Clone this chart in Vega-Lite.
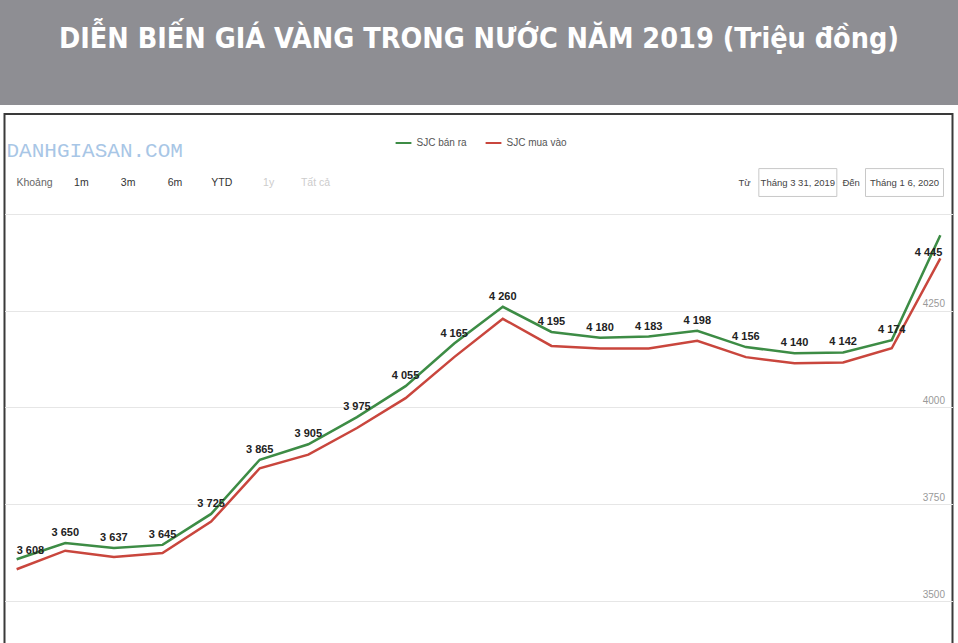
{
  "$schema": "https://vega.github.io/schema/vega-lite/v6.json",
  "padding": 0,
  "background": "white",
  "spacing": 8,
  "center": true,
  "config": {
    "view": {"stroke": null},
    "font": "Liberation Sans, sans-serif",
    "locale": {"number": {"decimal": ",", "thousands": " ", "grouping": [3], "currency": ["", ""]}}
  },
  "datasets": {
    "tieude": [{"tieu_de": "DIỄN BIẾN GIÁ VÀNG TRONG NƯỚC NĂM 2019 (Triệu đồng)"}],
    "gia_vang": [
      {"ngay": "2019-03-31", "loai": "SJC bán ra", "gia": 3608},
      {"ngay": "2019-04-15", "loai": "SJC bán ra", "gia": 3650},
      {"ngay": "2019-04-30", "loai": "SJC bán ra", "gia": 3637},
      {"ngay": "2019-05-15", "loai": "SJC bán ra", "gia": 3645},
      {"ngay": "2019-05-30", "loai": "SJC bán ra", "gia": 3725},
      {"ngay": "2019-06-14", "loai": "SJC bán ra", "gia": 3865},
      {"ngay": "2019-06-29", "loai": "SJC bán ra", "gia": 3905},
      {"ngay": "2019-07-14", "loai": "SJC bán ra", "gia": 3975},
      {"ngay": "2019-07-29", "loai": "SJC bán ra", "gia": 4055},
      {"ngay": "2019-08-13", "loai": "SJC bán ra", "gia": 4165},
      {"ngay": "2019-08-28", "loai": "SJC bán ra", "gia": 4260},
      {"ngay": "2019-09-12", "loai": "SJC bán ra", "gia": 4195},
      {"ngay": "2019-09-27", "loai": "SJC bán ra", "gia": 4180},
      {"ngay": "2019-10-12", "loai": "SJC bán ra", "gia": 4183},
      {"ngay": "2019-10-27", "loai": "SJC bán ra", "gia": 4198},
      {"ngay": "2019-11-11", "loai": "SJC bán ra", "gia": 4156},
      {"ngay": "2019-11-26", "loai": "SJC bán ra", "gia": 4140},
      {"ngay": "2019-12-11", "loai": "SJC bán ra", "gia": 4142},
      {"ngay": "2019-12-26", "loai": "SJC bán ra", "gia": 4174},
      {"ngay": "2020-01-06", "loai": "SJC bán ra", "gia": 4445},
      {"ngay": "2019-03-31", "loai": "SJC mua vào", "gia": 3582},
      {"ngay": "2019-04-15", "loai": "SJC mua vào", "gia": 3630},
      {"ngay": "2019-04-30", "loai": "SJC mua vào", "gia": 3614},
      {"ngay": "2019-05-15", "loai": "SJC mua vào", "gia": 3624},
      {"ngay": "2019-05-30", "loai": "SJC mua vào", "gia": 3705},
      {"ngay": "2019-06-14", "loai": "SJC mua vào", "gia": 3843},
      {"ngay": "2019-06-29", "loai": "SJC mua vào", "gia": 3878},
      {"ngay": "2019-07-14", "loai": "SJC mua vào", "gia": 3947},
      {"ngay": "2019-07-29", "loai": "SJC mua vào", "gia": 4024},
      {"ngay": "2019-08-13", "loai": "SJC mua vào", "gia": 4130},
      {"ngay": "2019-08-28", "loai": "SJC mua vào", "gia": 4229},
      {"ngay": "2019-09-12", "loai": "SJC mua vào", "gia": 4159},
      {"ngay": "2019-09-27", "loai": "SJC mua vào", "gia": 4152},
      {"ngay": "2019-10-12", "loai": "SJC mua vào", "gia": 4152},
      {"ngay": "2019-10-27", "loai": "SJC mua vào", "gia": 4172},
      {"ngay": "2019-11-11", "loai": "SJC mua vào", "gia": 4130},
      {"ngay": "2019-11-26", "loai": "SJC mua vào", "gia": 4114},
      {"ngay": "2019-12-11", "loai": "SJC mua vào", "gia": 4116},
      {"ngay": "2019-12-26", "loai": "SJC mua vào", "gia": 4153},
      {"ngay": "2020-01-06", "loai": "SJC mua vào", "gia": 4385}
    ],
    "cong_cu": [
      {"muc": "Khoảng", "nhom": "khoang", "trang_thai": "nhan"},
      {"muc": "1m", "nhom": "khoang", "trang_thai": "nut"},
      {"muc": "3m", "nhom": "khoang", "trang_thai": "nut"},
      {"muc": "6m", "nhom": "khoang", "trang_thai": "nut"},
      {"muc": "YTD", "nhom": "khoang", "trang_thai": "nut"},
      {"muc": "1y", "nhom": "khoang", "trang_thai": "tat"},
      {"muc": "Tất cả", "nhom": "khoang", "trang_thai": "tat"},
      {"muc": "Từ", "nhom": "ngay", "trang_thai": "nhan"},
      {"muc": "Tháng 3 31, 2019", "nhom": "ngay", "trang_thai": "o_nhap"},
      {"muc": "Đến", "nhom": "ngay", "trang_thai": "nhan"},
      {"muc": "Tháng 1 6, 2020", "nhom": "ngay", "trang_thai": "o_nhap"}
    ]
  },
  "vconcat": [
    {
      "width": 958,
      "height": 105,
      "view": {"fill": "#8e8e93", "stroke": null},
      "data": {"name": "tieude"},
      "mark": {"type": "text", "color": "white", "fontSize": 28.5, "fontWeight": "bold", "font": "DejaVu Sans Condensed, Open Sans, sans-serif", "baseline": "alphabetic", "dy": -5},
      "encoding": {"text": {"field": "tieu_de"}}
    },
    {
      "width": 948,
      "height": 530,
      "view": {"fill": "white", "stroke": "#3a3a3a", "strokeWidth": 2},
      "title": {"text": "DANHGIASAN.COM", "anchor": "start", "frame": "group", "orient": "top", "offset": -64, "font": "Liberation Mono", "fontSize": 21, "fontWeight": "normal", "color": "#a8c6e6", "dx": 2, "baseline": "alphabetic"},
      "resolve": {"scale": {"x": "independent", "color": "independent"}, "axis": {"y": "independent"}},
      "layer": [
        {
          "data": {"name": "gia_vang"},
          "encoding": {
            "x": {"field": "ngay", "type": "ordinal", "sort": null, "axis": null, "scale": {"type": "point", "padding": 0.25}},
            "y": {"field": "gia", "type": "quantitative",
                  "scale": {"domain": [3389, 4758], "nice": false, "zero": false},
                  "axis": {"orient": "right", "values": [3500, 3750, 4000, 4250, 4500], "format": "d",
                           "labelExpr": "datum.value >= 4500 ? '' : datum.label",
                           "title": null, "domain": false, "ticks": false, "grid": true, "gridColor": "#e6e6e6",
                           "labelAlign": "right", "labelBaseline": "bottom", "labelPadding": -8, "labelOffset": -2,
                           "labelColor": "#999999", "labelFontSize": 10}}
          },
          "layer": [
            {
              "mark": {"type": "line", "strokeWidth": 2.5},
              "encoding": {
                "color": {"field": "loai", "type": "nominal",
                          "scale": {"domain": ["SJC bán ra", "SJC mua vào"], "range": ["#3d8c45", "#c9463d"]},
                          "legend": {"orient": "none", "legendX": 390, "legendY": 20, "direction": "horizontal", "title": null,
                                     "symbolType": "stroke", "symbolStrokeWidth": 2, "symbolSize": 250,
                                     "labelFontSize": 10, "labelColor": "#555555", "columnPadding": 14}}
              }
            },
            {
              "transform": [{"filter": "datum.loai === 'SJC bán ra' && datum.ngay !== '2019-03-31' && datum.ngay !== '2020-01-06'"}],
              "mark": {"type": "text", "baseline": "bottom", "dy": -5, "fontSize": 11, "fontWeight": "bold", "color": "#222222"},
              "encoding": {"text": {"field": "gia", "type": "quantitative", "format": ",d"}}
            },
            {
              "transform": [{"filter": "datum.loai === 'SJC bán ra' && datum.ngay === '2019-03-31'"}],
              "mark": {"type": "text", "baseline": "bottom", "align": "left", "dy": -3, "dx": 0, "fontSize": 11, "fontWeight": "bold", "color": "#222222"},
              "encoding": {"text": {"field": "gia", "type": "quantitative", "format": ",d"}}
            },
            {
              "transform": [{"filter": "datum.loai === 'SJC bán ra' && datum.ngay === '2020-01-06'"}],
              "mark": {"type": "text", "baseline": "top", "align": "right", "dy": 12, "dx": 2, "fontSize": 11, "fontWeight": "bold", "color": "#222222"},
              "encoding": {"text": {"field": "gia", "type": "quantitative", "format": ",d"}}
            }
          ]
        },
        {
          "data": {"name": "cong_cu"},
          "transform": [{"filter": "datum.nhom === 'khoang'"}],
          "mark": {"type": "text", "fontSize": 10.5, "baseline": "middle"},
          "encoding": {
            "x": {"field": "muc", "type": "nominal", "sort": null, "axis": null, "scale": {"type": "point", "padding": 0, "range": [30, 311]}},
            "y": {"datum": 4580, "type": "quantitative", "axis": null},
            "text": {"field": "muc"},
            "color": {"field": "trang_thai", "type": "nominal", "scale": {"domain": ["nhan", "nut", "tat"], "range": ["#666666", "#333333", "#cccccc"]}, "legend": null}
          }
        },
        {
          "data": {"name": "cong_cu"},
          "transform": [{"filter": "datum.nhom === 'ngay'"}],
          "encoding": {
            "x": {"field": "muc", "type": "nominal", "sort": null, "axis": null,
                  "scale": {"type": "point", "padding": 0, "domain": ["Từ", "Tháng 3 31, 2019", "Đến", "Tháng 1 6, 2020"], "range": [740, 900]}}
          },
          "layer": [
            {
              "transform": [{"filter": "datum.trang_thai === 'o_nhap'"}],
              "mark": {"type": "rect", "width": 78, "fill": "white", "stroke": "#c8c8c8", "strokeWidth": 1},
              "encoding": {"y": {"datum": 4545, "type": "quantitative", "axis": null}, "y2": {"datum": 4617}}
            },
            {
              "mark": {"type": "text", "fontSize": 9.5, "baseline": "middle", "color": "#444444"},
              "encoding": {"y": {"datum": 4580, "type": "quantitative", "axis": null}, "text": {"field": "muc"}}
            }
          ]
        }
      ]
    }
  ]
}
